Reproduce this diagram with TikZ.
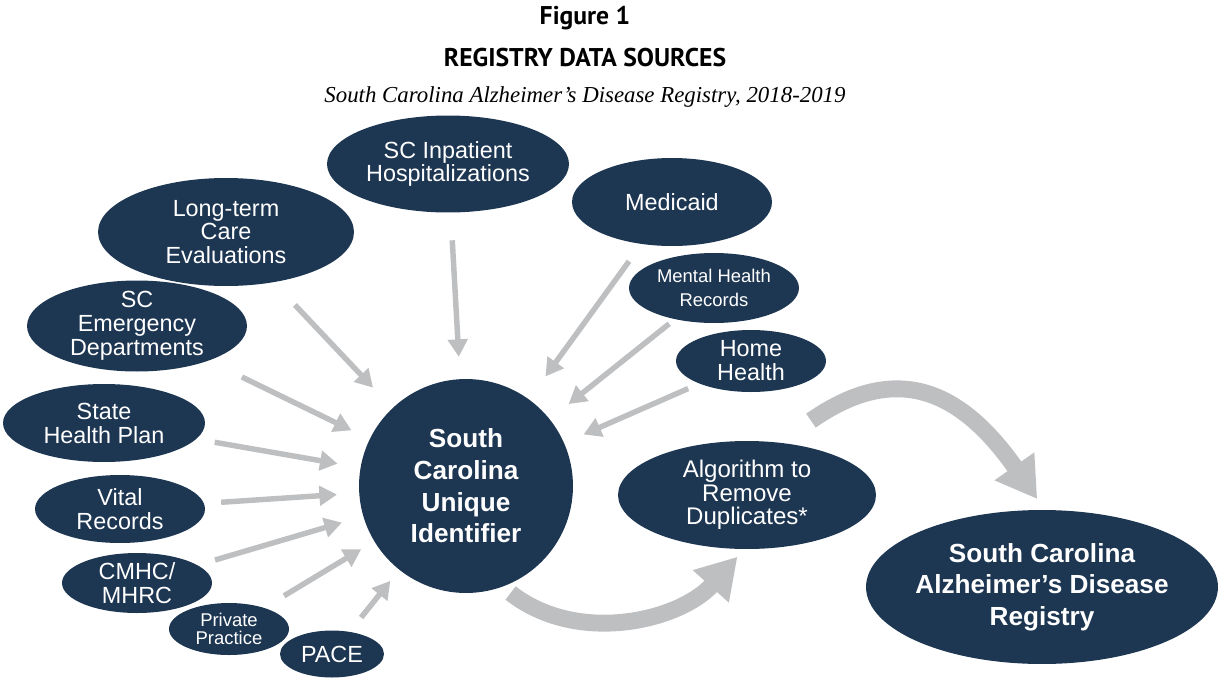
\documentclass[tikz,border=0pt]{standalone}
\usepackage{fontspec}
\setmainfont{Liberation Sans}
\newfontfamily\headfont{PT Sans}
\newfontfamily\subfont{Liberation Serif}
\usetikzlibrary{arrows.meta,shapes.geometric}

\definecolor{scnavy}{RGB}{29,54,82}
\definecolor{argray}{RGB}{190,191,193}

\newcommand\srcfont{\fontsize{13.3}{13.6}\selectfont}
\newcommand\smallsrcfont{\fontsize{10.5}{13.6}\selectfont}
\newcommand\hubfont{\bfseries\fontsize{14.9}{18}\selectfont}

\begin{document}
\begin{tikzpicture}[x=0.02cm,y=-0.02cm,>={Triangle[width=11pt,length=10pt]},
  src node/.style={ellipse,fill=scnavy,text=white,align=center,font=\srcfont,
    inner xsep=-3.4pt,inner ysep=-6.8pt},
  hub node/.style={circle,fill=scnavy,text=white,align=center,font=\hubfont,inner sep=0pt},
  feed/.style={draw,->,color=argray,line width=3.1pt},
  flow/.style={draw,-{Triangle[width=26pt,length=22.7pt]},color=argray,line width=9.6pt}]
  \useasboundingbox (0,0) rectangle (1221,677);

  % headings
  \node[font=\headfont\bfseries\fontsize{14.6}{16}\selectfont] (fig) at (585,18) {Figure 1};
  \node[font=\headfont\bfseries\fontsize{14.6}{16}\selectfont] (ttl) at (585,58) {REGISTRY DATA SOURCES};
  \node[font=\subfont\itshape\fontsize{13}{15}\selectfont] (sub) at (585,97) {South Carolina Alzheimer’s Disease Registry, 2018-2019};

  % data sources
  \node[src node,minimum width=4.84cm,minimum height=1.94cm] (inp) at (448,164) {SC Inpatient\\Hospitalizations};
  \node[src node,minimum width=4cm,minimum height=1.76cm] (med) at (672,202) {Medicaid};
  \node[src node,minimum width=5.12cm,minimum height=2.16cm] (ltc) at (226,232) {Long-term\\Care\\Evaluations};
  \node[src node,minimum width=3.4cm,minimum height=1.4cm,font=\smallsrcfont] (mhr) at (714,288) {Mental Health\\Records};
  \node[src node,minimum width=4.4cm,minimum height=1.82cm] (sed) at (137,326) {SC\\Emergency\\Departments};
  \node[src node,minimum width=3cm,minimum height=1.24cm] (hh) at (751,361) {Home\\Health};
  \node[src node,minimum width=4.04cm,minimum height=1.56cm] (shp) at (104,423) {State\\Health Plan};
  \node[src node,minimum width=3.4cm,minimum height=1.36cm] (vit) at (120,509) {Vital\\Records};
  \node[src node,minimum width=3cm,minimum height=1.2cm] (cmhc) at (137,583) {CMHC/\\MHRC};
  \node[src node,minimum width=2.4cm,minimum height=1.04cm,font=\fontsize{10.5}{10.4}\selectfont] (prp) at (229,629) {Private\\Practice};
  \node[src node,minimum width=2.08cm,minimum height=0.94cm] (pace) at (332,654) {PACE};

  % identifier, de-duplication and registry
  \node[hub node,minimum size=4.28cm] (uid) at (466,486) {South\\Carolina\\Unique\\Identifier};
  \node[src node,minimum width=5.16cm,minimum height=2.16cm,font=\fontsize{13.7}{13.3}\selectfont] (algo) at (747,495) {Algorithm to\\Remove\\Duplicates*};
  \node[src node,minimum width=7.04cm,minimum height=3.08cm,font=\hubfont] (reg) at (1042,587) {South Carolina\\Alzheimer’s Disease\\Registry};

  \path[every edge/.style={feed}]
     (inp)  edge[shorten <=0.55cm, shorten >=0.44cm] (uid)
     (ltc)  edge[shorten <=0.62cm, shorten >=0.56cm] (uid)
     (sed)  edge[shorten <=0.74cm, shorten >=0.4cm]  (uid)
     (shp)  edge[shorten <=0.37cm, shorten >=0.46cm] (uid)
     (vit)  edge[shorten <=0.34cm, shorten >=0.44cm] (uid)
     (cmhc) edge[shorten <=0.36cm, shorten >=0.44cm] (uid)
     (prp)  edge[shorten <=0.46cm, shorten >=0.3cm]  (uid)
     (pace) edge[shorten <=0.36cm, shorten >=0.28cm] (uid)
     (med)  edge[shorten <=0.42cm, shorten >=0.56cm] (uid)
     (mhr)  edge[shorten <=0.14cm, shorten >=0.48cm] (uid)
     (hh)   edge[shorten <=0.24cm, shorten >=0.42cm] (uid);

  \path[every edge/.style={flow}]
     (uid.-70) edge[out=-38, in=-132, looseness=1.0, shorten <=0.2cm, shorten >=0.2cm] (algo.-93)
     (algo.58) edge[out=35, in=125, looseness=1.35, shorten <=0.76cm, shorten >=0.26cm] (reg.88);
\end{tikzpicture}
\end{document}
